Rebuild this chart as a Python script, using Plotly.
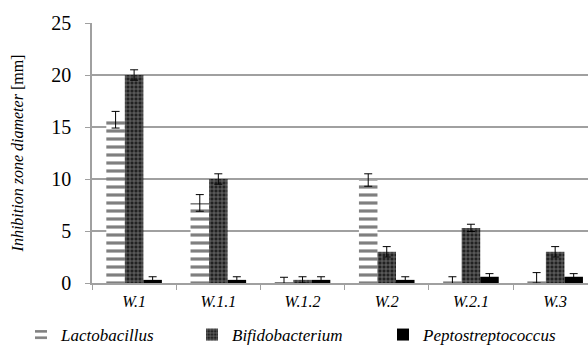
import plotly.graph_objects as go

categories = ["W.1", "W.1.1", "W.1.2", "W.2", "W.2.1", "W.3"]
lacto = [15.7, 7.7, 0.05, 9.9, 0.1, 0.5]
lacto_err = [0.8, 0.8, 0.5, 0.6, 0.5, 0.5]
bifido = [20.0, 10.0, 0.3, 3.0, 5.3, 3.0]
bifido_err = [0.5, 0.5, 0.3, 0.5, 0.35, 0.5]
pepto = [0.3, 0.3, 0.3, 0.3, 0.6, 0.6]
pepto_err = [0.3, 0.3, 0.3, 0.3, 0.3, 0.3]
y_ticks = [0, 5, 10, 15, 20, 25]

serif = "Liberation Serif"

def err(v):
    return dict(type="data", array=v, visible=True, color="black", thickness=1, width=4)

fig = go.Figure()
fig.add_trace(go.Bar(
    name="<i>Lactobacillus</i>", x=categories, y=lacto, error_y=err(lacto_err), legend="legend",
    marker=dict(color="white", line=dict(width=0),
                pattern=dict(shape="-", fgcolor="black", bgcolor="white", size=8, solidity=0.4)),
))
fig.add_trace(go.Bar(
    name="<i>Bifidobacterium</i>", x=categories, y=bifido, error_y=err(bifido_err), legend="legend2",
    marker=dict(color="black", line=dict(width=0),
                pattern=dict(shape="+", fgcolor="#cfcfcf", bgcolor="#222", size=4, solidity=0.35)),
))
fig.add_trace(go.Bar(
    name="<i>Peptostreptococcus</i>", x=categories, y=pepto, error_y=err(pepto_err), legend="legend3",
    marker=dict(color="black", line=dict(width=0)),
))

W, H = 588.0, 347.0
def leg(px_left):
    return dict(orientation="h", xref="container", yref="container",
                x=px_left / W, xanchor="left", y=(H - 335) / H, yanchor="middle",
                font=dict(family=serif, size=17), bgcolor="rgba(0,0,0,0)")

fig.update_layout(
    width=588, height=347,
    margin=dict(l=92, r=0, t=23, b=64),
    paper_bgcolor="white", plot_bgcolor="white",
    barmode="group", bargap=0.34, bargroupgap=0,
    font=dict(family=serif, color="black", size=13),
    showlegend=True,
    legend=leg(21), legend2=leg(192), legend3=leg(383),
    xaxis=dict(
        type="category", range=[-0.5, 5.39],
        showgrid=False, showline=True, linecolor="#a0a0a0", linewidth=1.5,
        ticks="outside", tickson="boundaries", ticklen=5, tickcolor="#a0a0a0",
        tickvals=categories, ticktext=["<i>%s</i>" % c for c in categories],
        tickfont=dict(family=serif, size=16), ticklabelstandoff=3, fixedrange=True,
    ),
    yaxis=dict(
        range=[0, 25], tickvals=y_ticks,
        showgrid=True, gridcolor="#a0a0a0", gridwidth=1.5,
        showline=True, linecolor="#a0a0a0", linewidth=1.5,
        ticks="outside", ticklen=5, tickcolor="#a0a0a0",
        tickfont=dict(family=serif, size=20), ticklabelstandoff=10, zeroline=False,
        title=dict(text="<i>Inhibition zone diameter</i> [mm]", font=dict(family=serif, size=16), standoff=24),
    ),
)

fig.write_html("out.html", config={"displayModeBar": False},
               post_script="document.body.style.margin='0';document.body.style.overflow='hidden';")
